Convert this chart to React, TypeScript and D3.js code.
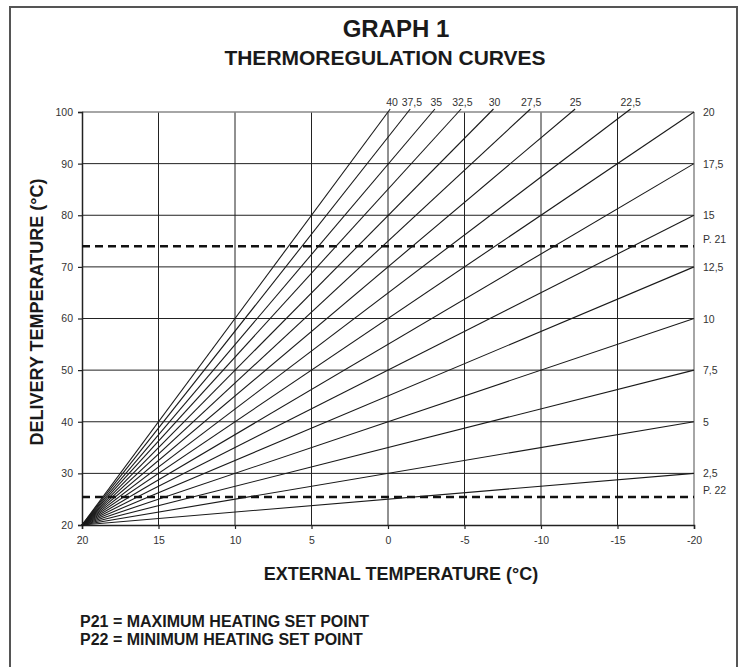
import React, { useEffect, useRef } from 'react';
import * as d3 from 'd3';

// curves: names and where each straight line ends (all start at 20°C / 20°C)
const curveNames = ['2,5', '5', '7,5', '10', '12,5', '15', '17,5', '20', '22,5', '25', '27,5', '30', '32,5', '35', '37,5', '40'];
const curveEndX = [-20, -20, -20, -20, -20, -20, -20, -20, -15.6, -12, -9.1, -6.7, -4.6, -2.9, -1.3, 0];
const curveEndY = [30, 40, 50, 60, 70, 80, 90, 100, 100, 100, 100, 100, 100, 100, 100, 100];
const curveStart = [20, 20];

const xTicks = [20, 15, 10, 5, 0, -5, -10, -15, -20];
const yTicks = [20, 30, 40, 50, 60, 70, 80, 90, 100];

const setPointNames = ['P. 21', 'P. 22'];
const setPointValues = [74, 25.4];

const legendLines = ['P21 = MAXIMUM HEATING SET POINT', 'P22 = MINIMUM HEATING SET POINT'];

const App: React.FC = () => {
  const svgRef = useRef<SVGSVGElement>(null);

  useEffect(() => {
    if (!svgRef.current) return;
    const svg = d3.select(svgRef.current);
    svg.selectAll('*').remove();

    const font = '"Liberation Sans", Arial, sans-serif';
    const plot = { left: 82, right: 694, top: 112, bottom: 525 };

    const x = d3.scaleLinear().domain([20, -20]).range([plot.left, plot.right]);
    const y = d3.scaleLinear().domain([20, 100]).range([plot.bottom, plot.top]);

    // outer frame
    svg.append('rect')
      .attr('x', 10).attr('y', 7)
      .attr('width', 727).attr('height', 670)
      .attr('fill', 'none')
      .attr('stroke', '#555')
      .attr('stroke-width', 2);

    // titles
    svg.append('text')
      .attr('x', 396).attr('y', 37)
      .attr('text-anchor', 'middle')
      .style('font-family', font).style('font-size', '24px').style('font-weight', 700)
      .style('fill', '#1a1a1a')
      .text('GRAPH 1');

    svg.append('text')
      .attr('x', 385).attr('y', 65)
      .attr('text-anchor', 'middle')
      .style('font-family', font).style('font-size', '21px').style('font-weight', 700)
      .style('fill', '#1a1a1a')
      .text('THERMOREGULATION CURVES');

    const g = svg.append('g');

    // grid
    g.selectAll('.vgrid')
      .data(xTicks.slice(1, -1))
      .enter().append('line')
      .attr('x1', d => x(d)).attr('x2', d => x(d))
      .attr('y1', plot.top).attr('y2', plot.bottom)
      .attr('stroke', '#222').attr('stroke-width', 1);

    g.selectAll('.hgrid')
      .data(yTicks.slice(1, -1))
      .enter().append('line')
      .attr('x1', plot.left).attr('x2', plot.right)
      .attr('y1', d => y(d)).attr('y2', d => y(d))
      .attr('stroke', '#222').attr('stroke-width', 1);

    // top and right border (grey)
    g.append('line')
      .attr('x1', plot.left).attr('x2', plot.right)
      .attr('y1', plot.top).attr('y2', plot.top)
      .attr('stroke', '#888').attr('stroke-width', 1.5);
    g.append('line')
      .attr('x1', plot.right).attr('x2', plot.right)
      .attr('y1', plot.top).attr('y2', plot.bottom)
      .attr('stroke', '#888').attr('stroke-width', 1.5);

    // axes
    const xAxis = g.append('g')
      .attr('transform', `translate(0,${plot.bottom})`)
      .call(d3.axisBottom(x).tickValues(xTicks).tickSize(4).tickPadding(8).tickFormat(d3.format('d')));
    const yAxis = g.append('g')
      .attr('transform', `translate(${plot.left},0)`)
      .call(d3.axisLeft(y).tickValues(yTicks).tickSize(4).tickPadding(5).tickFormat(d3.format('d')));

    [xAxis, yAxis].forEach(ax => {
      ax.select('.domain').attr('stroke', '#222').attr('stroke-width', 1.5);
      ax.selectAll('.tick line').attr('stroke', '#222').attr('stroke-width', 1.2);
      ax.selectAll('text')
        .style('font-family', font).style('font-size', '10.5px')
        .style('fill', '#333');
    });
    // plain hyphen for negatives, as in the original
    xAxis.selectAll('text').text((d: any) => String(d));

    // set point dashed lines
    setPointValues.forEach((v, i) => {
      g.append('line')
        .attr('x1', plot.left).attr('x2', plot.right)
        .attr('y1', y(v)).attr('y2', y(v))
        .attr('stroke', '#111').attr('stroke-width', 2.5)
        .attr('stroke-dasharray', '8,5');
      g.append('text')
        .attr('x', plot.right + 9).attr('y', y(v) - 3)
        .style('font-family', font).style('font-size', '10.5px')
        .style('fill', '#333')
        .text(setPointNames[i]);
    });

    // curves
    curveNames.forEach((name, i) => {
      const x0 = x(curveStart[0]);
      const y0 = y(curveStart[1]);
      const x1 = x(curveEndX[i]);
      const y1 = y(curveEndY[i]);
      const topEnd = curveEndY[i] === 100 && curveEndX[i] > -20;
      // lines meeting the top edge run a little past it
      const over = topEnd ? 3 : 0;
      const ux = (x1 - x0) / (y0 - y1);
      g.append('line')
        .attr('x1', x0).attr('y1', y0)
        .attr('x2', x1 + ux * over).attr('y2', y1 - over)
        .attr('stroke', '#1a1a1a').attr('stroke-width', 1.1);

      const lbl = g.append('text')
        .style('font-family', font).style('font-size', '10.5px')
        .style('fill', '#333')
        .text(name);
      if (topEnd) {
        lbl.attr('x', x1 + 4).attr('y', plot.top - 6).attr('text-anchor', 'middle');
      } else {
        lbl.attr('x', plot.right + 9).attr('y', Math.max(y1, plot.top - 7) + 4);
      }
    });

    // axis titles
    svg.append('text')
      .attr('x', 401).attr('y', 580)
      .attr('text-anchor', 'middle')
      .style('font-family', font).style('font-size', '18px').style('font-weight', 700)
      .style('fill', '#1a1a1a')
      .text('EXTERNAL TEMPERATURE (°C)');

    svg.append('text')
      .attr('transform', 'translate(43,312) rotate(-90)')
      .attr('text-anchor', 'middle')
      .style('font-family', font).style('font-size', '18px').style('font-weight', 700)
      .style('fill', '#1a1a1a')
      .text('DELIVERY TEMPERATURE (°C)');

    // legend notes
    legendLines.forEach((t, i) => {
      svg.append('text')
        .attr('x', 80).attr('y', 627 + i * 18)
        .style('font-family', font).style('font-size', '16px').style('font-weight', 700)
        .style('fill', '#1a1a1a')
        .text(t);
    });
  }, []);

  return (
    <svg
      ref={svgRef}
      width={746}
      height={667}
      style={{ position: 'absolute', left: 0, top: 0, background: '#fff' }}
    />
  );
};

export default App;
